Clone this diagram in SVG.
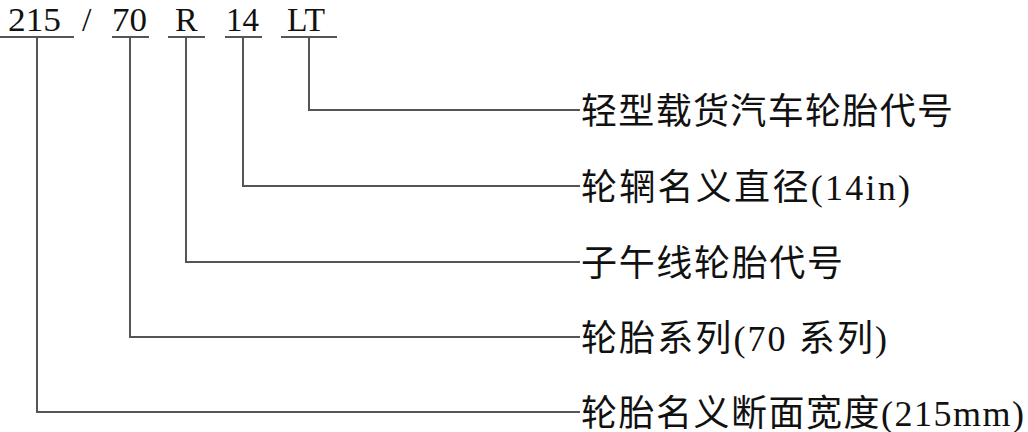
<svg xmlns="http://www.w3.org/2000/svg" width="1028" height="432" viewBox="0 0 1028 432">
<style>
.ln{stroke:#555;stroke-width:2;fill:none}
.code{font-family:"Liberation Serif","Noto Sans CJK SC",serif;font-size:34px;fill:#111}
.lbl{font-family:"Liberation Serif","Noto Sans CJK SC",serif;font-size:36px;fill:#111}
</style>
<rect width="1028" height="432" fill="#fff"/>
<g id="code">
<text class="code" x="8" y="31" textLength="53" lengthAdjust="spacingAndGlyphs">215</text>
<text class="code" x="82" y="31">/</text>
<text class="code" x="112" y="31" textLength="35" lengthAdjust="spacingAndGlyphs">70</text>
<text class="code" x="175" y="31">R</text>
<text class="code" x="226" y="31" textLength="33" lengthAdjust="spacingAndGlyphs">14</text>
<text class="code" x="287" y="31" textLength="38" lengthAdjust="spacingAndGlyphs">LT</text>
</g>
<g id="connectors">
<path class="ln" d="M0 37H74M112 37H149M168 37H205M225 37H262M281 37H337"/>
<path class="ln" d="M309 37V110H580"/>
<path class="ln" d="M243 37V186H580"/>
<path class="ln" d="M186 37V262H580"/>
<path class="ln" d="M130 37V337H580"/>
<path class="ln" d="M37 37V412H580"/>
</g>
<g id="n1"><text class="lbl" x="581" y="124" textLength="372" lengthAdjust="spacing">轻型载货汽车轮胎代号</text></g>
<g id="n2"><text class="lbl" x="581" y="200" textLength="329" lengthAdjust="spacing">轮辋名义直径(14in)</text></g>
<g id="n3"><text class="lbl" x="581" y="276" textLength="262" lengthAdjust="spacing">子午线轮胎代号</text></g>
<g id="n4"><text class="lbl" x="581" y="351" textLength="306" lengthAdjust="spacing">轮胎系列(70 系列)</text></g>
<g id="n5"><text class="lbl" x="581" y="426" textLength="443" lengthAdjust="spacing">轮胎名义断面宽度(215mm)</text></g>
</svg>
